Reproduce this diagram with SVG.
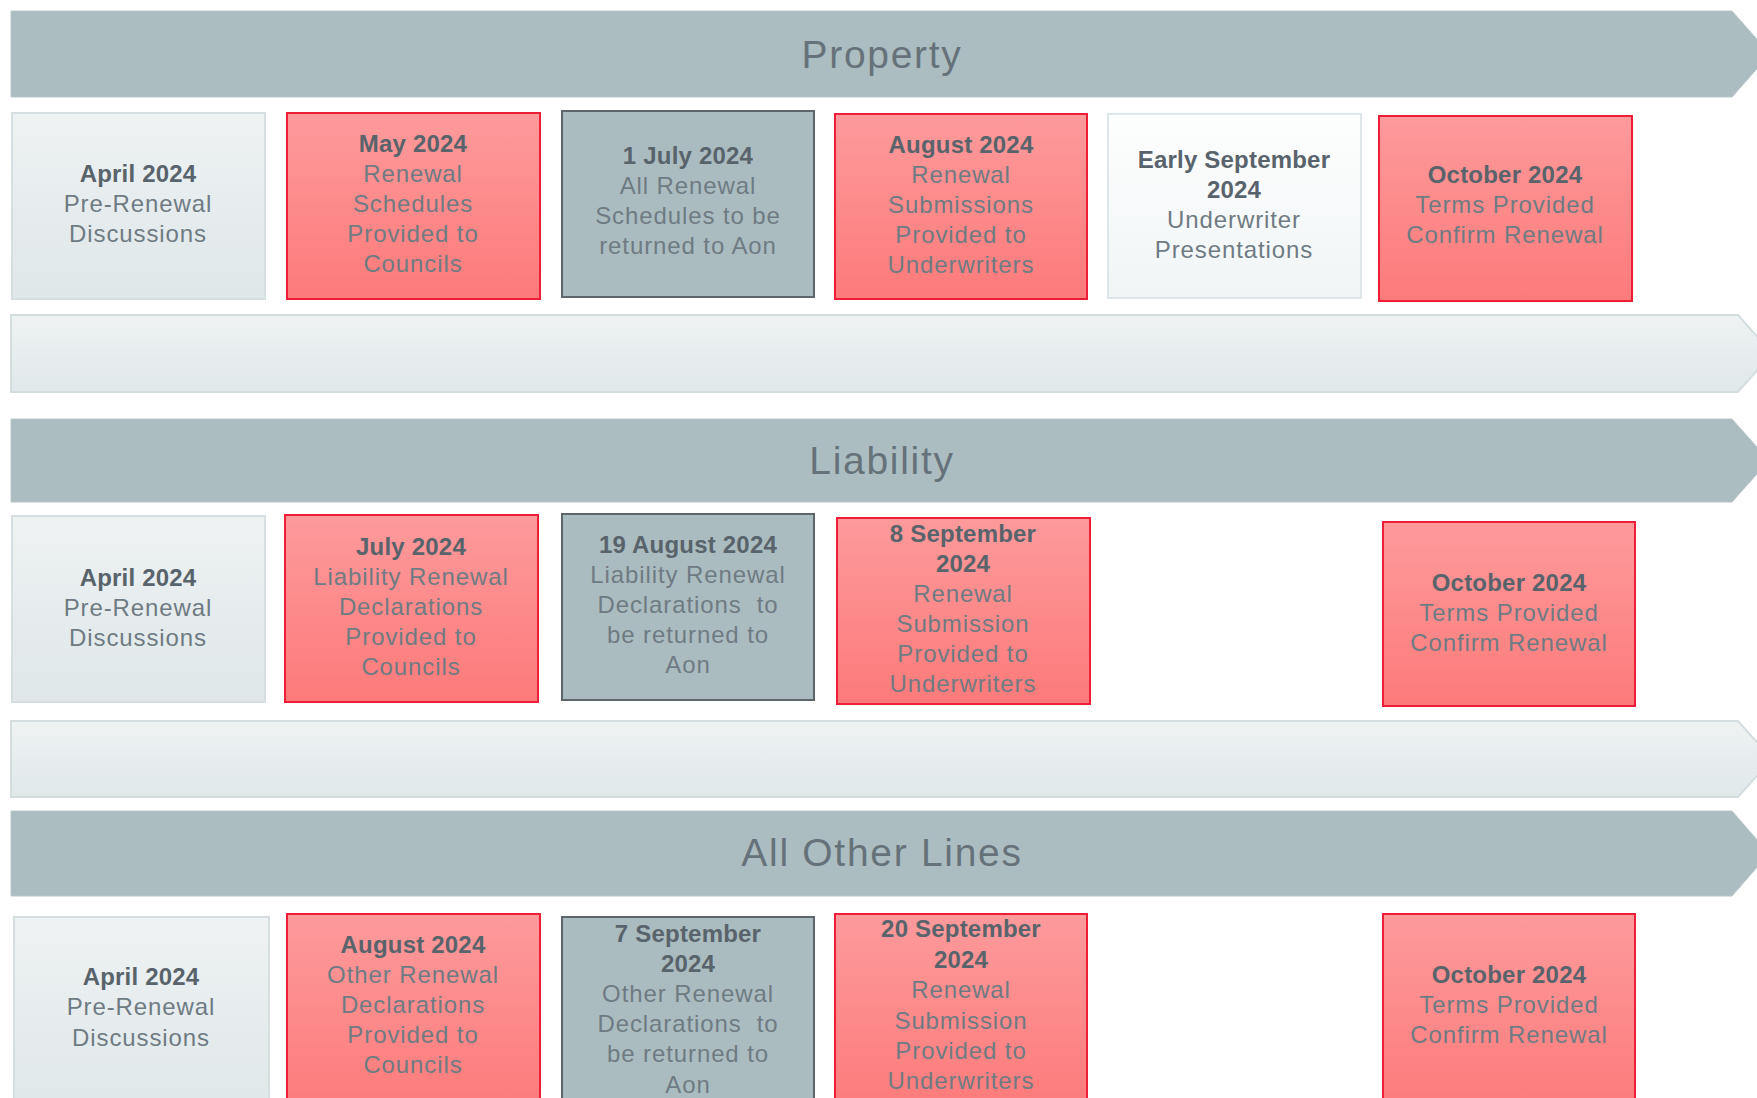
<svg xmlns="http://www.w3.org/2000/svg" width="1757" height="1098" viewBox="0 0 1757 1098">
<defs>
<linearGradient id="gRed" x1="0" y1="0" x2="0" y2="1"><stop offset="0" stop-color="#fd9a9c"/><stop offset="1" stop-color="#fd7a7a"/></linearGradient>
<linearGradient id="gPale" x1="0" y1="0" x2="0" y2="1"><stop offset="0" stop-color="#eef2f3"/><stop offset="1" stop-color="#dfe7e9"/></linearGradient>
<linearGradient id="gWhite" x1="0" y1="0" x2="0" y2="1"><stop offset="0" stop-color="#fdfefe"/><stop offset="1" stop-color="#f1f5f6"/></linearGradient>
<linearGradient id="gBand" x1="0" y1="0" x2="0" y2="1"><stop offset="0" stop-color="#eef2f3"/><stop offset="1" stop-color="#e0e8ea"/></linearGradient>
</defs>
<style>
.banner{fill:#acbdc1;stroke:#b7c6ca;stroke-width:1}
.band{fill:url(#gBand);stroke:#d3dde0;stroke-width:2}
.pale{fill:url(#gPale);stroke:#d5dfe2;stroke-width:2}
.red{fill:url(#gRed);stroke:#ec1f36;stroke-width:2}
.grey{fill:#abbcc0;stroke:#5d676b;stroke-width:2}
.white{fill:url(#gWhite);stroke:#dde7ea;stroke-width:2}
.title{font-family:"Liberation Sans",Arial,sans-serif;font-size:39px;fill:#66727a;text-anchor:middle;letter-spacing:1.7px}
.t{font-family:"Liberation Sans",Arial,sans-serif;font-size:24px;fill:#6f7b83;text-anchor:middle;letter-spacing:0.9px;white-space:pre}
.b{font-weight:bold;fill:#58636b;letter-spacing:0.2px}
</style>
<rect width="1757" height="1098" fill="#ffffff"/>

<g id="bands">
<g id="banner-property"><path class="banner" d="M11,11 H1732 L1770,54 L1732,97 H11 Z"/><text class="title" x="882" y="68">Property</text></g>
<path id="band-property" class="band" d="M11,315 H1738 L1772,353.5 L1738,392 H11 Z"/>
<g id="banner-liability"><path class="banner" d="M11,419 H1732 L1769,460.5 L1732,502 H11 Z"/><text class="title" x="882" y="474">Liability</text></g>
<path id="band-liability" class="band" d="M11,721 H1738 L1772,759 L1738,797 H11 Z"/>
<g id="banner-other"><path class="banner" d="M11,811 H1732 L1769,853.5 L1732,896 H11 Z"/><text class="title" x="882" y="866">All Other Lines</text></g>
</g>

<g id="connectors"/>

<!-- Property row -->
<g id="p-april"><rect class="pale" x="12" y="113" width="253" height="186"/>
<text class="t"><tspan class="b" x="138" y="182">April 2024</tspan><tspan x="138" y="212">Pre-Renewal</tspan><tspan x="138" y="242">Discussions</tspan></text></g>
<g id="p-may"><rect class="red" x="287" y="113" width="253" height="186"/>
<text class="t"><tspan class="b" x="413" y="152">May 2024</tspan><tspan x="413" y="182">Renewal</tspan><tspan x="413" y="212">Schedules</tspan><tspan x="413" y="242">Provided to</tspan><tspan x="413" y="272">Councils</tspan></text></g>
<g id="p-july"><rect class="grey" x="562" y="111" width="252" height="186"/>
<text class="t"><tspan class="b" x="688" y="164">1 July 2024</tspan><tspan x="688" y="194">All Renewal</tspan><tspan x="688" y="224">Schedules to be</tspan><tspan x="688" y="254">returned to Aon</tspan></text></g>
<g id="p-august"><rect class="red" x="835" y="114" width="252" height="185"/>
<text class="t"><tspan class="b" x="961" y="153">August 2024</tspan><tspan x="961" y="183">Renewal</tspan><tspan x="961" y="213">Submissions</tspan><tspan x="961" y="243">Provided to</tspan><tspan x="961" y="273">Underwriters</tspan></text></g>
<g id="p-sept"><rect class="white" x="1108" y="114" width="253" height="184"/>
<text class="t"><tspan class="b" x="1234" y="168">Early September</tspan><tspan class="b" x="1234" y="198">2024</tspan><tspan x="1234" y="228">Underwriter</tspan><tspan x="1234" y="258">Presentations</tspan></text></g>
<g id="p-october"><rect class="red" x="1379" y="116" width="253" height="185"/>
<text class="t"><tspan class="b" x="1505" y="183">October 2024</tspan><tspan x="1505" y="213">Terms Provided</tspan><tspan x="1505" y="243">Confirm Renewal</tspan></text></g>

<!-- Liability row -->
<g id="l-april"><rect class="pale" x="12" y="516" width="253" height="186"/>
<text class="t"><tspan class="b" x="138" y="586">April 2024</tspan><tspan x="138" y="616">Pre-Renewal</tspan><tspan x="138" y="646">Discussions</tspan></text></g>
<g id="l-july"><rect class="red" x="285" y="515" width="253" height="187"/>
<text class="t"><tspan class="b" x="411" y="555">July 2024</tspan><tspan x="411" y="585">Liability Renewal</tspan><tspan x="411" y="615">Declarations</tspan><tspan x="411" y="645">Provided to</tspan><tspan x="411" y="675">Councils</tspan></text></g>
<g id="l-august"><rect class="grey" x="562" y="514" width="252" height="186"/>
<text class="t"><tspan class="b" x="688" y="553">19 August 2024</tspan><tspan x="688" y="583">Liability Renewal</tspan><tspan x="688" y="613">Declarations&#160; to</tspan><tspan x="688" y="643">be returned to</tspan><tspan x="688" y="673">Aon</tspan></text></g>
<g id="l-sept"><rect class="red" x="837" y="518" width="253" height="186"/>
<text class="t"><tspan class="b" x="963" y="542">8 September</tspan><tspan class="b" x="963" y="572">2024</tspan><tspan x="963" y="602">Renewal</tspan><tspan x="963" y="632">Submission</tspan><tspan x="963" y="662">Provided to</tspan><tspan x="963" y="692">Underwriters</tspan></text></g>
<g id="l-october"><rect class="red" x="1383" y="522" width="252" height="184"/>
<text class="t"><tspan class="b" x="1509" y="591">October 2024</tspan><tspan x="1509" y="621">Terms Provided</tspan><tspan x="1509" y="651">Confirm Renewal</tspan></text></g>

<!-- All other lines row -->
<g id="o-april"><rect class="pale" x="14" y="917" width="255" height="200"/>
<text class="t"><tspan class="b" x="141" y="985">April 2024</tspan><tspan x="141" y="1015">Pre-Renewal</tspan><tspan x="141" y="1046">Discussions</tspan></text></g>
<g id="o-august"><rect class="red" x="287" y="914" width="253" height="200"/>
<text class="t"><tspan class="b" x="413" y="953">August 2024</tspan><tspan x="413" y="983">Other Renewal</tspan><tspan x="413" y="1013">Declarations</tspan><tspan x="413" y="1043">Provided to</tspan><tspan x="413" y="1073">Councils</tspan></text></g>
<g id="o-sept7"><rect class="grey" x="562" y="917" width="252" height="200"/>
<text class="t"><tspan class="b" x="688" y="942">7 September</tspan><tspan class="b" x="688" y="972">2024</tspan><tspan x="688" y="1002">Other Renewal</tspan><tspan x="688" y="1032">Declarations&#160; to</tspan><tspan x="688" y="1062">be returned to</tspan><tspan x="688" y="1093">Aon</tspan></text></g>
<g id="o-sept20"><rect class="red" x="835" y="914" width="252" height="200"/>
<text class="t"><tspan class="b" x="961" y="937">20 September</tspan><tspan class="b" x="961" y="968">2024</tspan><tspan x="961" y="998">Renewal</tspan><tspan x="961" y="1029">Submission</tspan><tspan x="961" y="1059">Provided to</tspan><tspan x="961" y="1089">Underwriters</tspan></text></g>
<g id="o-october"><rect class="red" x="1383" y="914" width="252" height="200"/>
<text class="t"><tspan class="b" x="1509" y="983">October 2024</tspan><tspan x="1509" y="1013">Terms Provided</tspan><tspan x="1509" y="1043">Confirm Renewal</tspan></text></g>
</svg>
